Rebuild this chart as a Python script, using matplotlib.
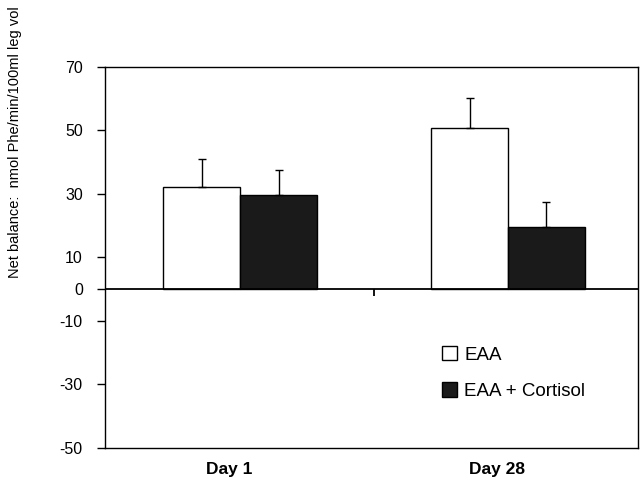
import numpy as np
import matplotlib
matplotlib.use("Agg")
import matplotlib.pyplot as plt
from matplotlib.patches import Patch

plt.rcParams['font.family'] = ['Liberation Sans', 'DejaVu Sans']
plt.rcParams['axes.unicode_minus'] = False

days = ['Day 1', 'Day 28']
eaa = [32.1, 50.8]
eaa_err = [8.9, 9.2]
cort = [29.5, 19.5]
cort_err = [8.0, 8.0]
yticks = [70, 50, 30, 10, 0, -10, -30, -50]

fig = plt.figure(figsize=(6.41, 4.94), dpi=100)
ax = fig.add_axes([105/641, 1-448/494, 533/641, 381.3/494])

x = np.arange(len(days))
w = 0.287
ax.bar(x - w/2, eaa, w, color='white', edgecolor='black', linewidth=1.0,
       yerr=[np.zeros(2), eaa_err], error_kw=dict(ecolor='black', elinewidth=1.0, capsize=3, capthick=1.0))
ax.bar(x + w/2, cort, w, color='#1a1a1a', edgecolor='black', linewidth=1.0,
       yerr=[np.zeros(2), cort_err], error_kw=dict(ecolor='black', elinewidth=1.0, capsize=3, capthick=1.0))

ax.axhline(0, color='black', lw=1.3, zorder=3)
mid = x.mean()
ax.vlines(mid, -2.3, 0, color='black', lw=1.3)

ax.set_xlim(-0.504, 1.485)
ax.set_ylim(-50, 70)
ax.set_yticks(yticks)
ax.tick_params(axis='y', direction='out', length=6, width=1, pad=10, labelsize=11.5)
ax.set_xticks(x - 0.04)
ax.set_xticklabels(days, fontweight='bold', fontsize=12.5)
ax.tick_params(axis='x', length=0, pad=10)
for s in ax.spines.values():
    s.set_linewidth(1.0)

handles = [Patch(facecolor='white', edgecolor='black', label='EAA'),
           Patch(facecolor='#1a1a1a', edgecolor='black', label='EAA + Cortisol')]
ax.legend(handles=handles, loc='center left', bbox_to_anchor=(0.6, 0.197),
          frameon=False, fontsize=13.5, handlelength=0.8, handleheight=0.8,
          handletextpad=0.4, labelspacing=1.0)

fig.text(15/641, 1-142/494, 'Net balance:  nmol Phe/min/100ml leg vol',
         rotation=90, ha='center', va='center', fontsize=10.5)

fig.savefig('out.png', dpi=100)
